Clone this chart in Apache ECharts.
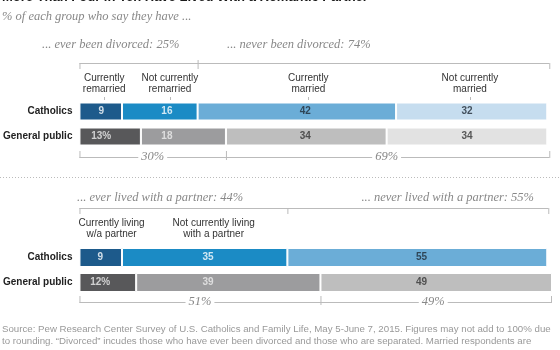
<!DOCTYPE html>
<html lang="en">
    <head>
        <meta charset="utf-8">
        <title>More Than Four in Ten Have Lived With a Romantic Partner</title>
        <style>
            body { margin: 0; background: #fff; }
        </style>
    </head>

    <body>
        <div id="echart" style="width: 560px; height: 350px;"></div>
        <script src="https://cdn.jsdelivr.net/npm/echarts@6/dist/echarts.min.js"></script>
        <script>
            // data
            let groups = ['Catholics', 'General public'];
            let divorceCols = ['Currently\nremarried', 'Not currently\nremarried', 'Currently\nmarried', 'Not currently\nmarried'];
            let divorceCath = [9, 16, 42, 32];
            let divorceGP = [13, 18, 34, 34];
            let partnerCols = ['Currently living\nw/a partner', 'Not currently living\nwith a partner'];
            let partnerCath = [9, 35, 55];
            let partnerGP = [12, 39, 49];
            let divorceSums = ['... ever been divorced: 25%', '... never been divorced: 74%'];
            let divorceGPSums = ['30%', '69%'];
            let partnerSums = ['... ever lived with a partner: 44%', '... never lived with a partner: 55%'];
            let partnerGPSums = ['51%', '49%'];

            // where the column labels sit (in % units of the axis)
            let divorceLabelX = [4.6, 18.5, 47.8, 82];
            let partnerLabelX = [4.4, 27.2, 72.4];
            let partnerHeadX = [6.8, 28.4];

            let blues = ['#1d5a8b', '#1b8bc5', '#6badd7', '#c6ddef'];
            let grays = ['#58585a', '#9c9c9e', '#bebebe', '#e2e2e2'];
            let cathText = ['#fff', '#fff', '#1f2a36', '#1f2a36'];
            let gpText = ['#eee', '#eee', '#333', '#333'];

            let serif = '"Liberation Serif", "DejaVu Serif", serif';
            let sans = '"Liberation Sans", Arial, sans-serif';

            let myChart = echarts.init(document.getElementById('echart'));

            function barSeries(grid, cath, gp, n) {
                let out = [];
                for (let i = 0; i < n; i++) {
                    out.push({
                        type: 'bar',
                        stack: 's' + grid,
                        xAxisIndex: grid,
                        yAxisIndex: grid,
                        barWidth: grid === 0 ? 18 : 19,
                        silent: true,
                        data: [
                            {value: cath[i], itemStyle: {color: blues[i]}},
                            {value: gp[i], itemStyle: {color: grays[i]}}
                        ],
                        itemStyle: {borderColor: '#fff', borderWidth: 1}
                    });
                }
                return out;
            }

            function labelSeries(grid, cath, gp, xs) {
                let data = [];
                for (let i = 0; i < cath.length; i++) {
                    data.push({value: [xs[i], 0], label: {color: cathText[i]}, txt: String(cath[i])});
                    data.push({value: [xs[i], 1], label: {color: gpText[i]}, txt: gp[i] + (i === 0 ? '%' : '')});
                }
                return {
                    type: 'scatter',
                    xAxisIndex: grid,
                    yAxisIndex: grid,
                    symbolSize: 1,
                    silent: true,
                    itemStyle: {color: 'transparent'},
                    z: 5,
                    label: {
                        show: true,
                        position: 'inside',
                        fontFamily: sans,
                        fontWeight: 'bold',
                        fontSize: 10,
                        formatter: p => p.data.txt
                    },
                    data: data
                };
            }

            let axisX = g => ({
                gridIndex: g, type: 'value', min: 0, max: 100, show: false
            });
            let axisY = g => ({
                gridIndex: g, type: 'category', data: groups, inverse: true,
                axisLine: {show: false}, axisTick: {show: false},
                axisLabel: {margin: 7, color: '#222', fontFamily: sans, fontWeight: 'bold', fontSize: 10}
            });

            let option = {
                animation: false,
                grid: [
                    {left: 77, width: 475, top: 99, height: 50},
                    {left: 77, width: 475, top: 245, height: 50}
                ],
                xAxis: [axisX(0), axisX(1)],
                yAxis: [axisY(0), axisY(1)],
                series: [].concat(
                    barSeries(0, divorceCath, divorceGP, 4),
                    barSeries(1, partnerCath, partnerGP, 3),
                    [labelSeries(0, divorceCath, divorceGP, divorceLabelX),
                     labelSeries(1, partnerCath, partnerGP, partnerLabelX)]
                )
            };
            myChart.setOption(option);

            // brackets and headings placed through the axis scales
            let px = (g, v) => myChart.convertToPixel({gridIndex: g}, [v, 0])[0];
            let lineCol = '#bbb';
            let gfx = [];
            let seg = (x1, y1, x2, y2, extra) => gfx.push(Object.assign({
                type: 'line', shape: {x1: x1, y1: y1, x2: x2, y2: y2},
                style: {stroke: lineCol, lineWidth: 1}, silent: true
            }, extra || {}));
            let txt = (x, y, text, font, fill, align, bg) => gfx.push({
                type: 'text', x: x, y: y, silent: true, z: 10,
                style: {text: text, font: font, fill: fill, align: align || 'left', verticalAlign: 'middle',
                        backgroundColor: bg || null, padding: bg ? [0, 3] : 0, lineHeight: 11}
            });
            let italic = 'italic 12.5px ' + serif;

            // title (cut off at top) and subtitle
            txt(2, -3, 'More Than Four in Ten Have Lived With a Romantic Partner', 'bold 13px ' + sans, '#1a1a1a');
            txt(2, 17, '% of each group who say they have ...', 'italic 12.5px ' + serif, '#888');

            // top block: divorce
            let cEver = divorceCath[0] + divorceCath[1];
            let cAll = divorceCath.reduce((a, b) => a + b, 0);
            let gEver = divorceGP[0] + divorceGP[1];
            let gAll = divorceGP.reduce((a, b) => a + b, 0);
            txt(42, 45, divorceSums[0], italic, '#888');
            txt(227, 45, divorceSums[1], italic, '#888');
            seg(px(0, 0), 63.5, px(0, cAll) + 2, 63.5);
            seg(px(0, 0) + 0.5, 63, px(0, 0) + 0.5, 69);
            seg(px(0, cEver) + 0.5, 60, px(0, cEver) + 0.5, 69);
            seg(px(0, cAll) + 2.5, 63, px(0, cAll) + 2.5, 69);
            divorceCols.forEach((c, i) => {
                let x = px(0, divorceLabelX[i]) + 3;
                txt(x, 84, c, '10px ' + sans, '#333', 'center');
                seg(Math.round(x) + 0.5, 97, Math.round(x) + 0.5, 100);
            });
            seg(px(0, 0), 157.5, px(0, gAll) + 2, 157.5);
            seg(px(0, 0) + 0.5, 151, px(0, 0) + 0.5, 158);
            seg(px(0, gEver) + 0.5, 151, px(0, gEver) + 0.5, 160);
            seg(px(0, gAll) + 2.5, 151, px(0, gAll) + 2.5, 158);
            txt((px(0, 0) + px(0, gEver)) / 2, 157, divorceGPSums[0], italic, '#888', 'center', '#fff');
            txt((px(0, gEver) + px(0, gAll)) / 2, 157, divorceGPSums[1], italic, '#888', 'center', '#fff');

            // dotted divider
            seg(0, 177.5, 560, 177.5, {style: {stroke: '#bbb', lineWidth: 1, lineDash: [1, 2]}});

            // bottom block: living with partner
            let pEver = partnerCath[0] + partnerCath[1];
            let pAll = partnerCath.reduce((a, b) => a + b, 0);
            let qEver = partnerGP[0] + partnerGP[1];
            let qAll = partnerGP.reduce((a, b) => a + b, 0);
            txt(77, 198, partnerSums[0], italic, '#888');
            txt(534, 198, partnerSums[1], italic, '#888', 'right');
            seg(px(1, 0), 208.5, px(1, pAll) + 1, 208.5);
            seg(px(1, 0) + 0.5, 208, px(1, 0) + 0.5, 214);
            seg(px(1, pEver) + 0.5, 208, px(1, pEver) + 0.5, 214);
            seg(px(1, pAll) + 1.5, 208, px(1, pAll) + 1.5, 214);
            partnerCols.forEach((c, i) => {
                txt(px(1, partnerHeadX[i]), 229, c, '10px ' + sans, '#333', 'center');
            });
            seg(px(1, 0), 302.5, px(1, qAll), 302.5);
            seg(px(1, 0) + 0.5, 296, px(1, 0) + 0.5, 303);
            seg(px(1, qEver) + 0.5, 296, px(1, qEver) + 0.5, 305);
            seg(px(1, qAll) - 0.5, 296, px(1, qAll) - 0.5, 303);
            txt((px(1, 0) + px(1, qEver)) / 2, 302, partnerGPSums[0], italic, '#888', 'center', '#fff');
            txt((px(1, qEver) + px(1, qAll)) / 2 - 3, 302, partnerGPSums[1], italic, '#888', 'center', '#fff');

            // source note
            gfx.push({
                type: 'text', x: 2, y: 323, silent: true,
                style: {
                    text: 'Source: Pew Research Center Survey of U.S. Catholics and Family Life, May 5-June 7, 2015. Figures may not add to 100% due\n' +
                          'to rounding. \u201cDivorced\u201d incudes those who have ever been divorced and those who are separated. Married respondents are',
                    font: '9.7px ' + sans, fill: '#999', lineHeight: 12
                }
            });

            myChart.setOption({graphic: {elements: gfx}});
        </script>
    </body>
</html>
